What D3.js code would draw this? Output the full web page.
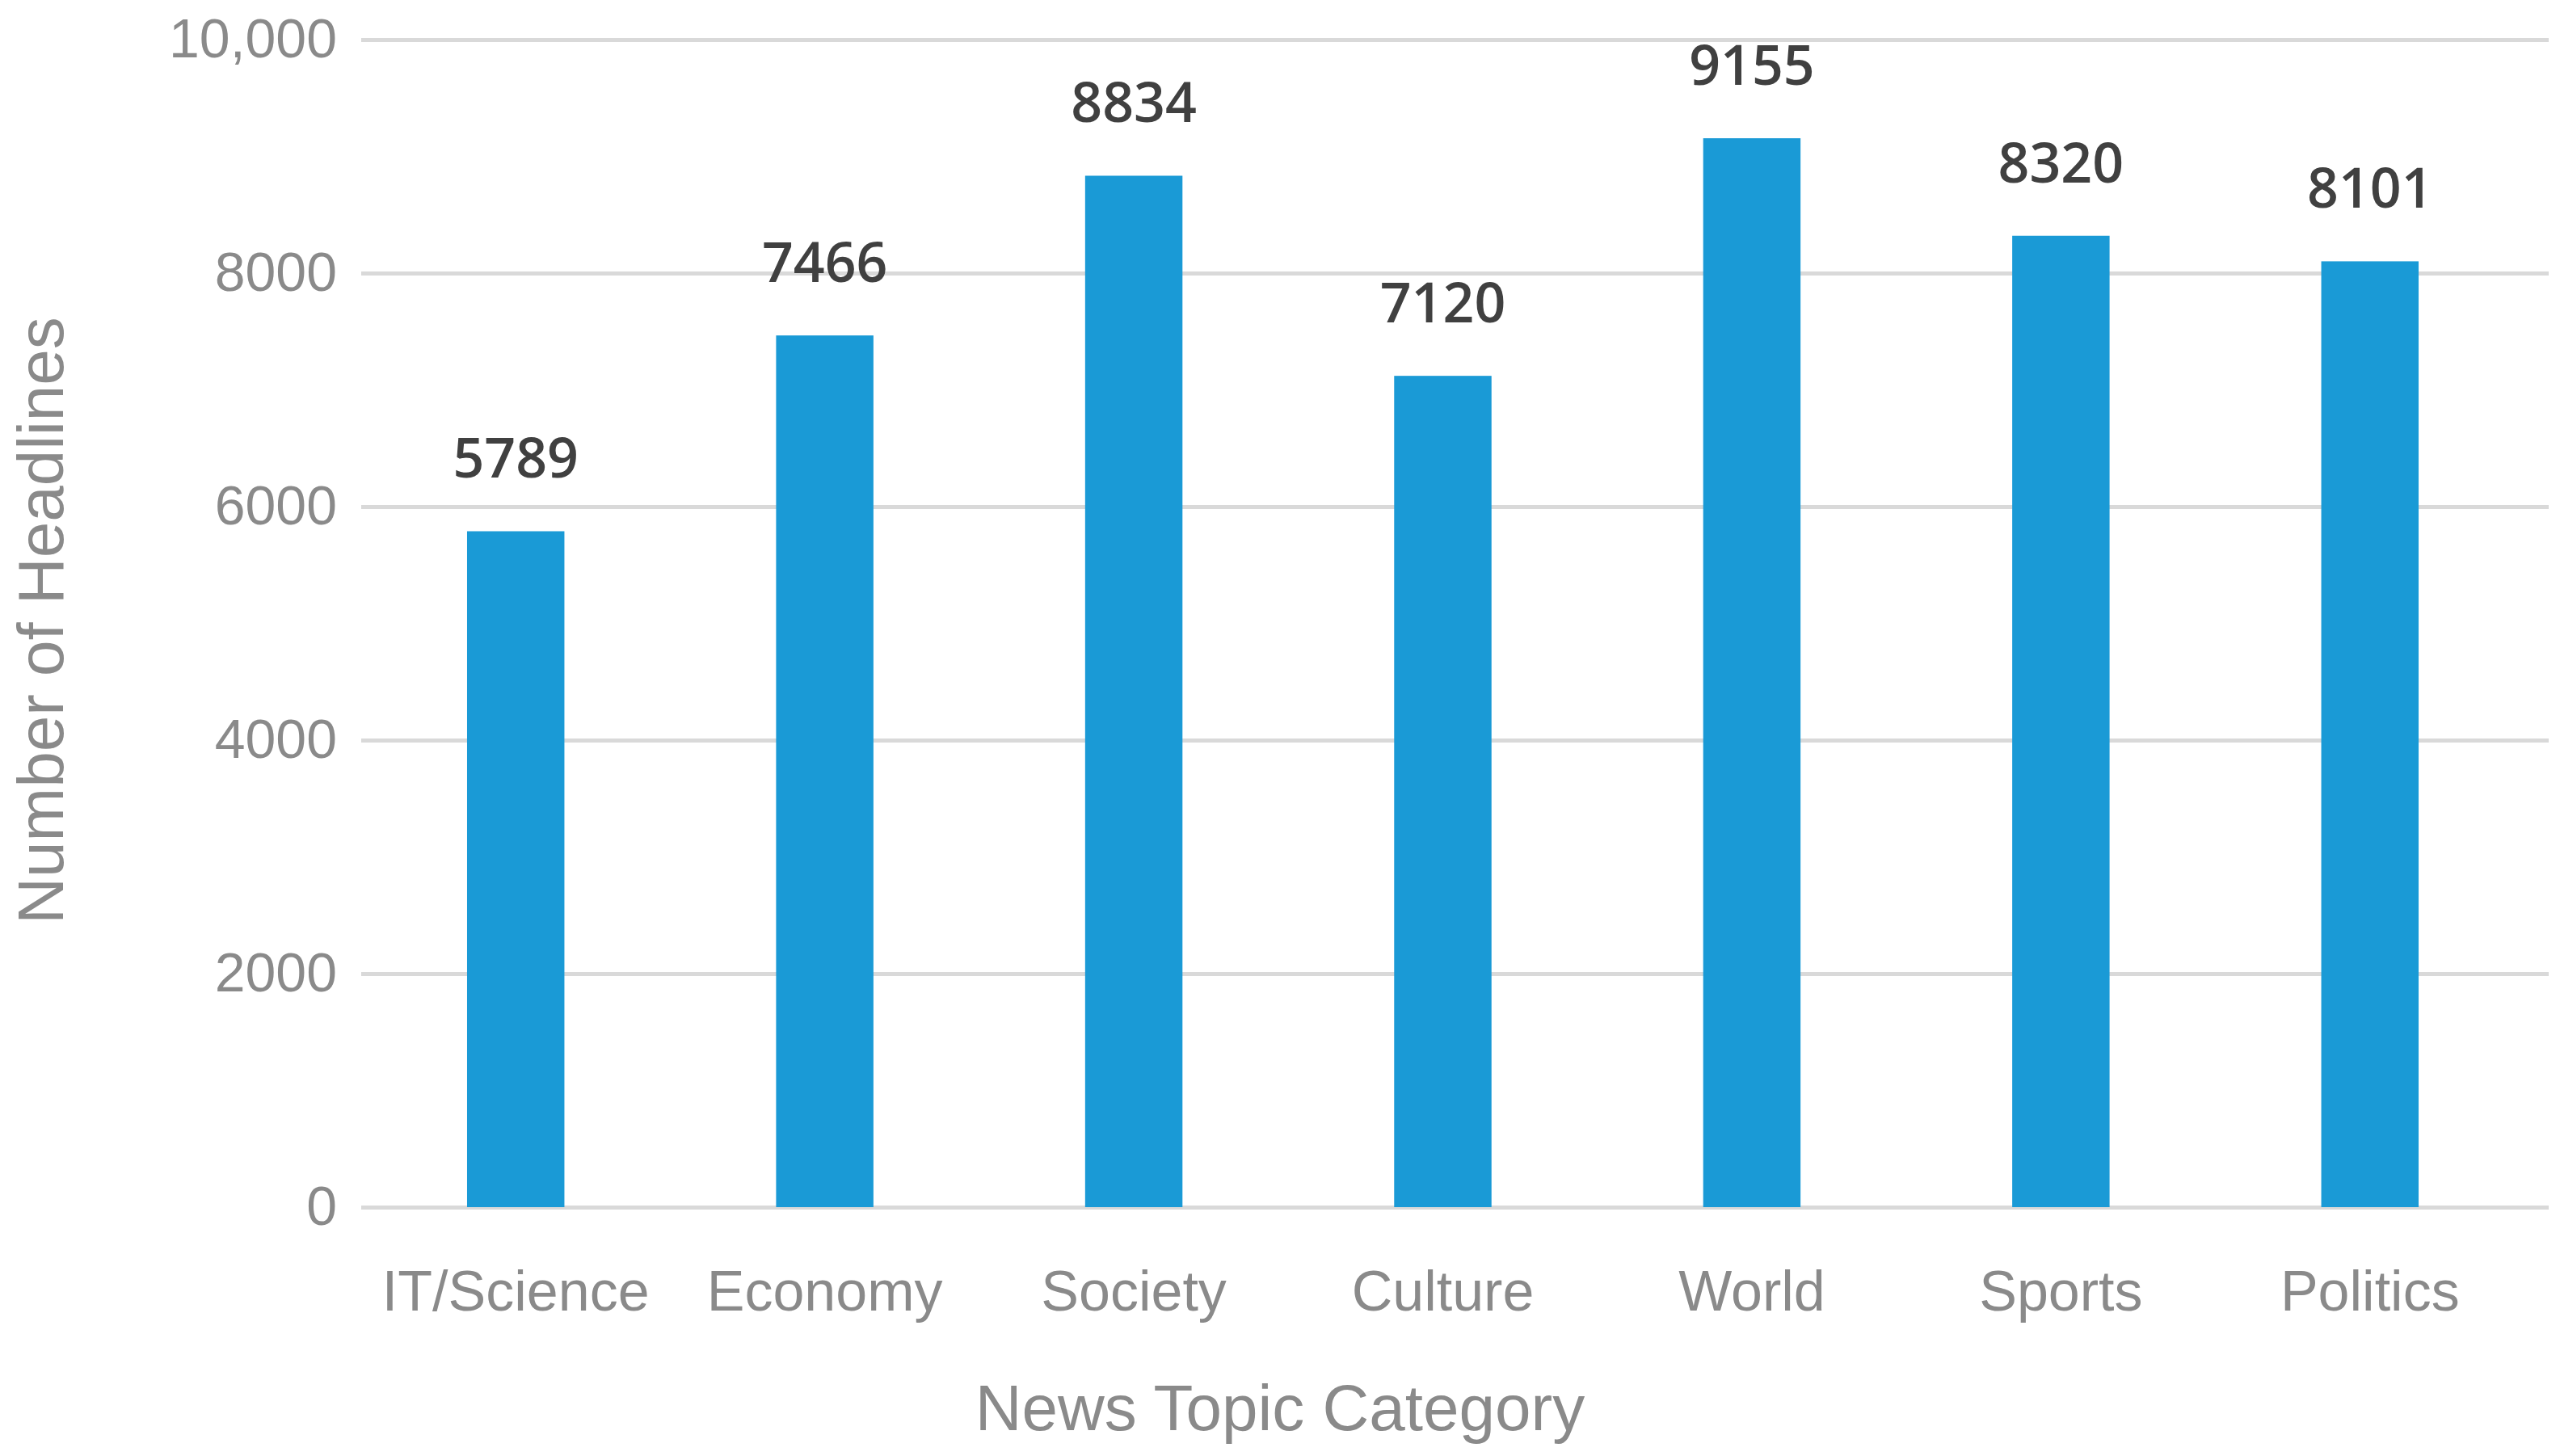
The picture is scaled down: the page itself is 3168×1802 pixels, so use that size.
<!DOCTYPE html>
<html>
<head>
<meta charset="utf-8">
<script src="https://cdn.jsdelivr.net/npm/d3@7"></script>
<style>
  body { margin: 0; background: #fff; }
</style>
</head>
<body>
<div id="chart"></div>
<script>
var categories = ["IT/Science", "Economy", "Society", "Culture", "World", "Sports", "Politics"];
var headlines = [5789, 7466, 8834, 7120, 9155, 8320, 8101];
var yTicks = [0, 2000, 4000, 6000, 8000, 10000];

var width = 3168, height = 1802;
var margin = { top: 49, right: 30, bottom: 308, left: 447 };
var plotW = width - margin.left - margin.right;
var plotH = height - margin.top - margin.bottom;

var svg = d3.select("#chart")
    .append("svg")
    .attr("width", width)
    .attr("height", height);

var g = svg.append("g")
    .attr("transform", "translate(" + margin.left + "," + margin.top + ")");

var x = d3.scaleBand()
    .domain(categories)
    .range([0, plotW - 14])
    .padding(0);

var y = d3.scaleLinear()
    .domain([0, 10000])
    .range([plotH, 0]);

var grey = "#8a8a8a";
var font = "'Liberation Sans', Arial, sans-serif";

// gridlines
var yAxis = d3.axisLeft(y)
    .tickValues(yTicks)
    .tickSize(-(plotW + 16))
    .tickPadding(30)
    .tickFormat(function (d) { return d === 10000 ? "10,000" : d; });

var ya = g.append("g").call(yAxis);
ya.select(".domain").remove();
ya.selectAll("line").attr("stroke", "#d9d9d9").attr("stroke-width", 5);
ya.selectAll("text")
    .attr("fill", grey)
    .style("font-family", font)
    .style("font-size", "68px");

// bars
var barW = x.bandwidth() * 0.315;
g.selectAll("rect.bar")
    .data(headlines)
    .enter()
    .append("rect")
    .attr("class", "bar")
    .attr("x", function (d, i) { return x(categories[i]) + (x.bandwidth() - barW) / 2; })
    .attr("y", function (d) { return y(d); })
    .attr("width", barW)
    .attr("height", function (d) { return plotH - y(d); })
    .attr("fill", "#1a9ad6");

// value labels
g.selectAll("text.val")
    .data(headlines)
    .enter()
    .append("text")
    .attr("class", "val")
    .attr("x", function (d, i) { return x(categories[i]) + x.bandwidth() / 2; })
    .attr("y", function (d) { return y(d) - 66; })
    .attr("text-anchor", "middle")
    .attr("fill", "#404040")
    .style("font-family", "'Open Sans', sans-serif")
    .style("font-weight", "600")
    .style("font-size", "68px")
    .text(function (d) { return d; });

// x labels
var xAxis = d3.axisBottom(x).tickSize(0).tickPadding(78);
var xa = g.append("g")
    .attr("transform", "translate(0," + plotH + ")")
    .call(xAxis);
xa.select(".domain").remove();
xa.selectAll("text")
    .attr("fill", grey)
    .style("font-family", font)
    .style("font-size", "70px");

// axis titles
svg.append("text")
    .attr("x", 1584)
    .attr("y", 1770)
    .attr("text-anchor", "middle")
    .attr("fill", grey)
    .style("font-family", font)
    .style("font-size", "80px")
    .text("News Topic Category");

svg.append("text")
    .attr("transform", "translate(78," + 768 + ") rotate(-90)")
    .attr("text-anchor", "middle")
    .attr("fill", grey)
    .style("font-family", font)
    .style("font-size", "80px")
    .text("Number of Headlines");
</script>
</body>
</html>
